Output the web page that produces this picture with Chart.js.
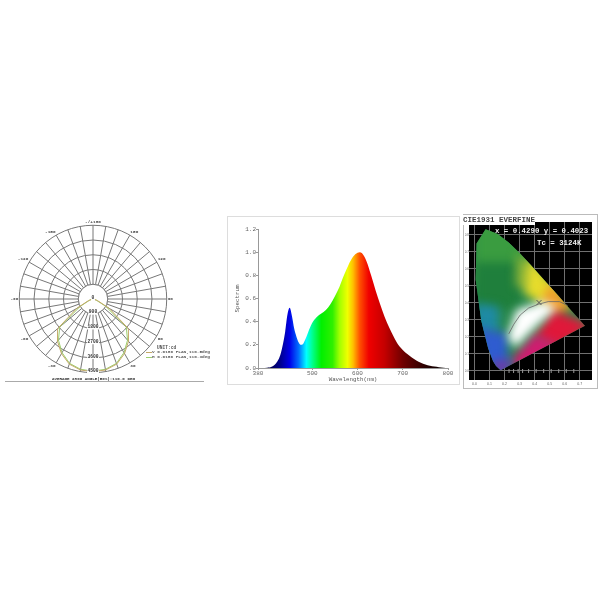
<!DOCTYPE html>
<html>
<head>
<meta charset="utf-8">
<script src="https://cdn.jsdelivr.net/npm/chart.js@4/dist/chart.umd.min.js"></script>
<style>
body { margin: 0; background: #fff; width: 600px; height: 600px; overflow: hidden; position: relative; }
canvas { position: absolute; filter: blur(0.45px); }
.txt { position: absolute; white-space: pre; font-family: "Liberation Mono", monospace; font-weight: bold; filter: blur(0.3px); }
.panel { position: absolute; box-sizing: border-box; }
</style>
</head>
<body>
<div class="panel" style="left:227px;top:216px;width:233px;height:169px;border:1px solid #ddd"></div>
<div class="panel" style="left:463px;top:214px;width:135px;height:175px;border:1px solid #bbb"></div>
<canvas id="polar" width="186" height="176" style="left:0;top:210px"></canvas>
<canvas id="spectrum" width="231" height="167" style="left:228px;top:217px"></canvas>
<canvas id="cie" width="133" height="173" style="left:464px;top:215px"></canvas>

<div style="position:absolute;left:5px;top:380.5px;width:199px;height:1.5px;background:#aaa"></div>
<div class="txt" style="left:52px;top:376.5px;font-size:4.2px;color:#333">AVERAGE 2800 ANGLE(50%):110.0 DEG</div>
<div class="txt" style="left:157px;top:344.5px;font-size:4.6px;color:#555">UNIT:cd</div>
<div id="polarLegend"></div>

<div class="txt" style="left:463px;top:215px;width:72px;height:10px;line-height:10px;background:#fff;font-size:7.5px;color:#444">CIE1931 EVERFINE</div>
<div class="txt" style="left:495px;top:227px;font-size:7.4px;line-height:9px;color:#eee">x = 0.4290 y = 0.4023</div>
<div class="txt" style="left:537px;top:238.5px;font-size:7.4px;line-height:9px;color:#eee">Tc = 3124K</div>

<script>
// polar chart (angle measured from the bottom, 10 deg steps)
var polarLabels = ['', '', '', '-30', '', '', '-60', '', '', '-90', '', '', '-120', '', '', '-150', '', '',
    '-/+180', '', '', '150', '', '', '120', '', '', '90', '', '', '60', '', '', '30', '', ''];
var polarTicks = [0, 900, 1800, 2700, 3600, 4500];
var vPlane = [4440, 4400, 4230, 3850, 3370, 2820, 1150, 300, 60, 0, 0, 0, 0, 0, 0, 0, 0, 0,
    0, 0, 0, 0, 0, 0, 0, 0, 0, 0, 60, 300, 1150, 2820, 3370, 3850, 4230, 4400];
var hPlane = [4400, 4360, 4180, 3780, 3280, 2650, 900, 220, 40, 0, 0, 0, 0, 0, 0, 0, 0, 0,
    0, 0, 0, 0, 0, 0, 0, 0, 0, 0, 40, 220, 900, 2650, 3280, 3780, 4180, 4360];
var polarSeries = ['V 0.0180 PLAN,110.5deg', 'H 0.0180 PLAN,110.3deg'];
var polarColors = ['#c4a868', '#9ccf6c'];

// spectrum
var wavelengths = [380, 390, 400, 410, 420, 430, 440, 445, 450, 455, 460, 465, 470, 475, 480, 485, 490, 495,
    500, 510, 520, 530, 540, 550, 560, 570, 580, 590, 600, 605, 610, 620, 630, 640, 650, 660, 670, 680, 690,
    700, 710, 720, 730, 740, 750, 760, 770, 780, 790, 800];
var spectrum = [0, 0, 0.002, 0.01, 0.04, 0.12, 0.31, 0.46, 0.52, 0.45, 0.34, 0.27, 0.22, 0.2, 0.21, 0.25, 0.3, 0.35,
    0.39, 0.44, 0.47, 0.5, 0.55, 0.62, 0.7, 0.8, 0.89, 0.96, 0.995, 1, 0.99, 0.92, 0.8, 0.67, 0.55, 0.44, 0.35, 0.27, 0.2,
    0.155, 0.12, 0.09, 0.065, 0.045, 0.03, 0.02, 0.012, 0.007, 0.003, 0];
var spectrumXTicks = [380, 500, 600, 700, 800];
var spectrumYTicks = [0, 0.2, 0.4, 0.6, 0.8, 1, 1.2];
var stopWavelengths = [400, 430, 450, 470, 487, 500, 520, 545, 560, 578, 590, 605, 625, 660, 700, 750, 800];
var stopColors = ['#000040', '#000090', '#0000e8', '#0070ff', '#00ffff', '#00ff90', '#00f000', '#30f000', '#a0ff00',
    '#f0ff00', '#ffc000', '#ff5000', '#f00000', '#c40000', '#700000', '#280000', '#000000'];

// CIE 1931 diagram
var locusX = [0.1741, 0.144, 0.1241, 0.0913, 0.0454, 0.0082, 0.0139, 0.0743, 0.1547, 0.2296, 0.3016, 0.3731,
    0.4441, 0.5125, 0.5752, 0.627, 0.6915, 0.726, 0.7347];
var locusY = [0.005, 0.0297, 0.0578, 0.1327, 0.295, 0.5384, 0.7502, 0.8338, 0.8059, 0.7543, 0.6923, 0.6245,
    0.5547, 0.4866, 0.4242, 0.3725, 0.3083, 0.274, 0.2653];
var regionPoints = [
    [[0, 0.9], [0.35, 0.9], [0.35, 0.6], [0, 0.5]],
    [[0, 0.64], [0.3, 0.64], [0.3, 0.38], [0, 0.34]],
    [[0.28, 0.7], [0.4, 0.6], [0.36, 0.48], [0.27, 0.5]],
    [[0.36, 0.68], [0.58, 0.46], [0.46, 0.38], [0.33, 0.46]],
    [[0.5, 0.52], [0.66, 0.38], [0.54, 0.32], [0.44, 0.4]],
    [[0.52, 0.36], [0.78, 0.27], [0.55, 0.13], [0.4, 0.2]],
    [[0.4, 0.22], [0.58, 0.15], [0.3, -0.02], [0.24, 0.06]],
    [[0, 0.4], [0.16, 0.38], [0.16, 0.22], [0, 0.22]],
    [[0, 0.26], [0.22, 0.22], [0.22, 0.02], [0.08, 0.02]],
    [[0.1, 0.05], [0.25, 0.08], [0.22, -0.02], [0.14, -0.02]],
    [[0.22, 0.2], [0.28, 0.36], [0.46, 0.41], [0.55, 0.37], [0.42, 0.27], [0.27, 0.14]]
];
var regionColors = ['#3a9c40', '#1f7f3c', '#7fae38', '#e6dc2c', '#f2a02a', '#e0183a', '#d01c70',
    '#1e8aa4', '#2f5cd0', '#6a3ab0', '#ffffff'];
var planckX = [0.228, 0.262, 0.304, 0.36, 0.424, 0.49, 0.565, 0.62];
var planckY = [0.218, 0.275, 0.329, 0.37, 0.392, 0.408, 0.408, 0.385];
var measuredX = [0.429];
var measuredY = [0.4023];
var cieXTicks = [0, 0.1, 0.2, 0.3, 0.4, 0.5, 0.6, 0.7];
var cieYTicks = [0, 0.1, 0.2, 0.3, 0.4, 0.5, 0.6, 0.7, 0.8];
var waveMarkX = [0.23, 0.26, 0.29, 0.32, 0.36, 0.41, 0.46, 0.51, 0.56, 0.61, 0.66];

function zipPoints(xs, ys) {
    return xs.map(function(x, i) { return { x: x, y: ys[i] }; });
}
function fixedTicks(list) {
    return function(scale) {
        scale.ticks = list.map(function(v) { return { value: v }; });
    };
}

// legend of the polar chart
var legendBox = document.getElementById('polarLegend');
polarSeries.forEach(function(name, i) {
    var top = 349 + i * 5.3;
    legendBox.innerHTML += '<div style="position:absolute;left:146px;top:' + (top + 2.5) + 'px;width:6px;height:1px;background:' + polarColors[i] + '"></div>' +
        '<div class="txt" style="left:152px;top:' + top + 'px;font-size:4.4px;line-height:5px;color:#555">' + name + '</div>';
});

// white hole in the middle of the polar grid, plus the value labels on the 0 deg spoke
var polarDecor = {
    id: 'polarDecor',
    beforeDatasetsDraw: function(chart) {
        var r = chart.scales.r, c = chart.ctx;
        c.save();
        c.beginPath();
        c.arc(r.xCenter, r.yCenter, r.getDistanceFromCenterForValue(polarTicks[1]), 0, Math.PI * 2);
        c.fillStyle = '#fff';
        c.fill();
        c.strokeStyle = '#777';
        c.lineWidth = 1;
        c.stroke();
        c.restore();
    },
    afterDatasetsDraw: function(chart) {
        var r = chart.scales.r, c = chart.ctx;
        c.save();
        c.font = 'bold 4.6px "Liberation Mono"';
        c.textAlign = 'center';
        c.textBaseline = 'middle';
        polarTicks.forEach(function(v) {
            var p = r.getPointPositionForValue(0, v);
            var w = c.measureText(String(v)).width + 1;
            c.fillStyle = '#fff';
            c.fillRect(p.x - w / 2, p.y - 4, w, 5);
            c.fillStyle = '#333';
            c.fillText(String(v), p.x, p.y - 1.5);
        });
        c.restore();
    }
};

new Chart(document.getElementById('polar').getContext('2d'), {
    type: 'radar',
    data: {
        labels: polarLabels,
        datasets: [
            { label: polarSeries[0], data: vPlane, borderColor: polarColors[0], borderWidth: 1, pointRadius: 0, fill: false },
            { label: polarSeries[1], data: hPlane, borderColor: polarColors[1], borderWidth: 1, pointRadius: 0, fill: false }
        ]
    },
    options: {
        responsive: false,
        animation: false,
        layout: { padding: { top: 9, bottom: 6, left: 0, right: 0 } },
        plugins: { legend: { display: false }, tooltip: { enabled: false } },
        scales: {
            r: {
                min: 0,
                max: 4500,
                startAngle: 180,
                ticks: { stepSize: 900, display: false },
                grid: { circular: true, color: '#777', lineWidth: 1 },
                angleLines: { color: '#777', lineWidth: 1 },
                pointLabels: { font: { size: 4.4, family: 'Liberation Mono', weight: 'bold' }, color: '#444', padding: 1 }
            }
        }
    },
    plugins: [polarDecor]
});

// spectrum chart, filled with the colours of the wavelengths
function spectrumFill(context) {
    var chart = context.chart;
    if (!chart.chartArea) return '#888';
    var xs = chart.scales.x;
    var left = xs.getPixelForValue(380), right = xs.getPixelForValue(800);
    var g = chart.ctx.createLinearGradient(left, 0, right, 0);
    stopWavelengths.forEach(function(w, i) {
        g.addColorStop((w - 380) / (800 - 380), stopColors[i]);
    });
    return g;
}

new Chart(document.getElementById('spectrum').getContext('2d'), {
    type: 'line',
    data: {
        datasets: [{
            label: 'Spectrum',
            data: zipPoints(wavelengths, spectrum),
            backgroundColor: spectrumFill,
            borderWidth: 0,
            pointRadius: 0,
            fill: 'origin',
            cubicInterpolationMode: 'monotone'
        }]
    },
    options: {
        responsive: false,
        animation: false,
        layout: { padding: { top: 12, right: 11, left: 6, bottom: 1 } },
        plugins: { legend: { display: false }, tooltip: { enabled: false } },
        scales: {
            x: {
                type: 'linear',
                min: 380,
                max: 800,
                afterBuildTicks: fixedTicks(spectrumXTicks),
                afterFit: function(s) { s.height = 15; },
                grid: { drawOnChartArea: false, tickLength: 2, color: '#999' },
                border: { color: '#999' },
                ticks: { color: '#666', font: { size: 6, family: 'Liberation Mono' }, maxRotation: 0, padding: 0, autoSkip: false,
                    callback: function(v) { return String(v); } },
                title: { display: true, text: 'Wavelength(nm)', color: '#555', padding: 0, font: { size: 5.8, family: 'Liberation Mono' } }
            },
            y: {
                min: 0,
                max: 1.2,
                afterBuildTicks: fixedTicks(spectrumYTicks),
                afterFit: function(s) { s.width = 24; },
                grid: { drawOnChartArea: false, tickLength: 2, color: '#999' },
                border: { color: '#999' },
                ticks: { color: '#666', font: { size: 6, family: 'Liberation Mono' }, padding: 0, autoSkip: false,
                    callback: function(v) { return v.toFixed(1); } },
                title: { display: true, text: 'Spectrum', color: '#555', padding: 0, font: { size: 5.8, family: 'Liberation Mono' } }
            }
        }
    }
});

// CIE colours: the region datasets are painted soft and cut to the locus
var gamutPaint = {
    id: 'gamutPaint',
    beforeDraw: function(chart) {
        var a = chart.chartArea;
        chart.ctx.fillStyle = '#000';
        chart.ctx.fillRect(a.left, a.top, a.right - a.left, a.bottom - a.top);
    },
    beforeDatasetsDraw: function(chart) {
        var c = chart.ctx;
        var locus = chart.getDatasetMeta(0).data;
        c.save();
        c.beginPath();
        locus.forEach(function(p, i) {
            if (i === 0) c.moveTo(p.x, p.y); else c.lineTo(p.x, p.y);
        });
        c.closePath();
        c.fillStyle = '#2a8a50';
        c.fill();
        c.clip();
        c.filter = 'blur(5px)';
        regionPoints.forEach(function(points, n) {
            var els = chart.getDatasetMeta(n + 1).data;
            c.beginPath();
            els.forEach(function(p, i) {
                if (i === 0) c.moveTo(p.x, p.y); else c.lineTo(p.x, p.y);
            });
            c.closePath();
            c.fillStyle = regionColors[n];
            c.fill();
        });
        c.restore();
    }
};

var cieDatasets = [{ label: 'locus', data: zipPoints(locusX, locusY), showLine: false, pointRadius: 0 }];
regionPoints.forEach(function(points, n) {
    cieDatasets.push({
        label: 'region' + n,
        data: points.map(function(p) { return { x: p[0], y: p[1] }; }),
        showLine: false,
        pointRadius: 0
    });
});
cieDatasets.push({ label: 'planck', data: zipPoints(planckX, planckY), showLine: true, borderColor: '#666', borderWidth: 0.8, pointRadius: 0 });
cieDatasets.push({ label: 'point', data: zipPoints(measuredX, measuredY), pointStyle: 'crossRot', pointRadius: 3.5, borderColor: '#555', borderWidth: 1 });
cieDatasets.push({
    label: 'marks',
    data: waveMarkX.map(function(x) { return { x: x, y: 0 }; }),
    pointStyle: 'line',
    rotation: 90,
    pointRadius: 2,
    borderColor: '#999',
    borderWidth: 1
});

new Chart(document.getElementById('cie').getContext('2d'), {
    type: 'scatter',
    data: { datasets: cieDatasets },
    options: {
        responsive: false,
        animation: false,
        layout: { padding: { top: 7, right: 4, left: 0, bottom: 0 } },
        plugins: { legend: { display: false }, tooltip: { enabled: false } },
        scales: {
            x: {
                min: -0.036,
                max: 0.781,
                afterBuildTicks: fixedTicks(cieXTicks),
                afterFit: function(s) { s.height = 8; },
                grid: { color: '#707070', lineWidth: 1, tickLength: 0 },
                border: { display: false },
                ticks: { color: '#666', font: { size: 3.5 }, padding: 2, maxRotation: 0, autoSkip: false,
                    callback: function(v) { return v.toFixed(1); } }
            },
            y: {
                min: -0.053,
                max: 0.876,
                afterBuildTicks: fixedTicks(cieYTicks),
                afterFit: function(s) { s.width = 4; },
                grid: { color: '#707070', lineWidth: 1, tickLength: 0 },
                border: { display: false },
                ticks: { color: '#666', font: { size: 3 }, padding: 0, autoSkip: false,
                    callback: function(v) { return v.toFixed(1); } }
            }
        }
    },
    plugins: [gamutPaint]
});
</script>
</body>
</html>
